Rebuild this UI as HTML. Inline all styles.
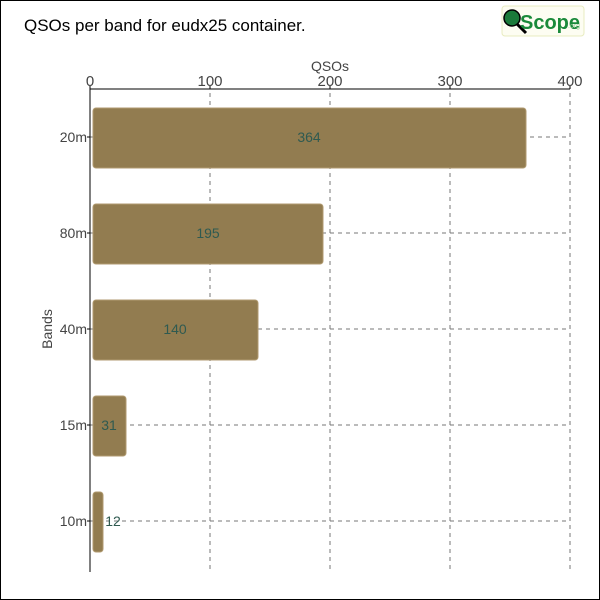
<!DOCTYPE html>
<html><head><style>
body{margin:0;background:#fff}
svg{display:block;font-family:"Liberation Sans","DejaVu Sans",sans-serif}
</style></head><body>
<svg width="600" height="600" viewBox="0 0 600 600">
<rect x="0.5" y="0.5" width="599" height="599" fill="#fff" stroke="#000"/>
<text x="24" y="31" font-size="17" fill="#000">QSOs per band for eudx25 container.</text>
<rect x="502" y="6" width="82" height="30" rx="3" fill="#fdfdf2" stroke="#e8ecc0"/>
<circle cx="512" cy="18" r="8" fill="#1a7a3a" stroke="#000" stroke-width="1.5"/>
<line x1="517" y1="24" x2="526" y2="33" stroke="#000" stroke-width="3"/>
<text x="520" y="29" font-size="20" fill="#1a8a3a" font-weight="bold" font-family="Liberation Sans Narrow,Liberation Sans,sans-serif">Scope</text>
<text x="568" y="28" font-size="7" fill="#9c9">.org</text>
<text x="330" y="71" font-size="14" fill="#444" text-anchor="middle">QSOs</text>
<g font-size="15" fill="#444" text-anchor="middle">
<text x="90" y="86">0</text><text x="210" y="86">100</text><text x="330" y="86">200</text><text x="450" y="86">300</text><text x="570" y="86">400</text>
</g>
<g stroke="#777" stroke-dasharray="4,4" stroke-width="1">
<line x1="210" y1="93" x2="210" y2="572"/><line x1="330" y1="93" x2="330" y2="572"/><line x1="450" y1="93" x2="450" y2="572"/><line x1="570" y1="93" x2="570" y2="572"/>
<line x1="90" y1="137" x2="570" y2="137"/><line x1="90" y1="233" x2="570" y2="233"/><line x1="90" y1="329" x2="570" y2="329"/><line x1="90" y1="425" x2="570" y2="425"/><line x1="90" y1="521" x2="570" y2="521"/>
</g>
<g stroke="#000">
<line x1="90" y1="89" x2="570" y2="89"/><line x1="90" y1="89" x2="90" y2="572"/>
<line x1="90" y1="86" x2="90" y2="89"/><line x1="210" y1="86" x2="210" y2="89"/><line x1="330" y1="86" x2="330" y2="89"/><line x1="450" y1="86" x2="450" y2="89"/><line x1="570" y1="86" x2="570" y2="89"/>
<line x1="87" y1="137" x2="90" y2="137"/><line x1="87" y1="233" x2="90" y2="233"/><line x1="87" y1="329" x2="90" y2="329"/><line x1="87" y1="425" x2="90" y2="425"/><line x1="87" y1="521" x2="90" y2="521"/>
</g>
<g fill="#927c50" stroke="#b09a70" stroke-width="1">
<rect x="93" y="108" width="433" height="60" rx="3"/>
<rect x="93" y="204" width="230" height="60" rx="3"/>
<rect x="93" y="300" width="165" height="60" rx="3"/>
<rect x="93" y="396" width="33" height="60" rx="3"/>
<rect x="93" y="492" width="10" height="60" rx="3"/>
</g>
<g font-size="14" fill="#2f5a50" text-anchor="middle">
<text x="309" y="142">364</text><text x="208" y="238">195</text><text x="175" y="334">140</text><text x="109" y="430">31</text><text x="113" y="526">12</text>
</g>
<g font-size="14" fill="#444" text-anchor="end">
<text x="87" y="142">20m</text><text x="87" y="238">80m</text><text x="87" y="334">40m</text><text x="87" y="430">15m</text><text x="87" y="526">10m</text>
</g>
<text x="52" y="329" font-size="14" fill="#444" text-anchor="middle" transform="rotate(-90 52 329)">Bands</text>
</svg>
</body></html>
